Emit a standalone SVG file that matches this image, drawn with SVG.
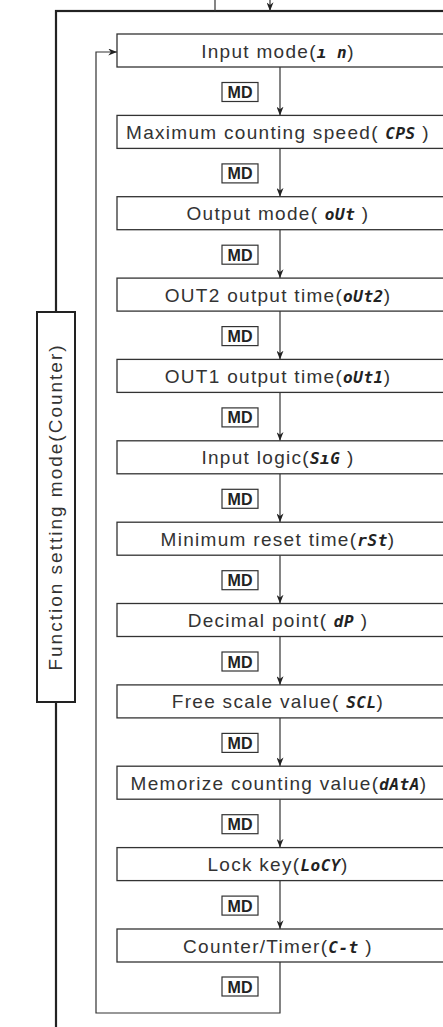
<svg xmlns="http://www.w3.org/2000/svg" width="443" height="1027" viewBox="0 0 443 1027">
<style>
.box{fill:#fff;stroke:#333;stroke-width:1.3}
.lbl{font-family:"Liberation Sans",Arial,sans-serif;font-size:19px;letter-spacing:1.3px;fill:#333;text-anchor:middle}
.side{font-family:"Liberation Sans",Arial,sans-serif;font-size:19px;letter-spacing:2px;fill:#333;text-anchor:middle}
.seg{font-family:"DejaVu Sans Mono",monospace;font-weight:bold;font-style:italic;font-size:16px;letter-spacing:0.5px;fill:#222}
.md{fill:#fff;stroke:#333;stroke-width:1.2}
.mdt{font-family:"Liberation Sans",Arial,sans-serif;font-weight:bold;font-size:16px;fill:#222;text-anchor:middle}
.con{fill:none;stroke:#333;stroke-width:1.2}
.thick{fill:none;stroke:#222;stroke-width:2.2}
</style>
<defs>
<marker id="ah" viewBox="0 0 10 8" refX="10" refY="4" markerWidth="9" markerHeight="7" markerUnits="userSpaceOnUse" orient="auto">
<path d="M0,0 L10,4 L0,8 L3,4 z" fill="#222"/>
</marker>
</defs>
<g id="frame">
<rect class="thick" x="56" y="11" width="420" height="1100"/>
<line class="con" x1="215" y1="0" x2="215" y2="11"/>
<line class="con" x1="270" y1="0" x2="270" y2="11" marker-end="url(#ah)"/>
</g>
<g id="side-label">
<rect x="37" y="312" width="38" height="390" fill="#fff" stroke="#222" stroke-width="2"/>
<text class="side" transform="translate(62,507) rotate(-90)">Function setting mode(Counter)</text>
</g>
<g id="connectors">
<line class="con" x1="280" y1="67" x2="280" y2="115.4" marker-end="url(#ah)"/>
<line class="con" x1="280" y1="148.4" x2="280" y2="196.7" marker-end="url(#ah)"/>
<line class="con" x1="280" y1="229.7" x2="280" y2="278.1" marker-end="url(#ah)"/>
<line class="con" x1="280" y1="311.1" x2="280" y2="359.4" marker-end="url(#ah)"/>
<line class="con" x1="280" y1="392.4" x2="280" y2="440.8" marker-end="url(#ah)"/>
<line class="con" x1="280" y1="473.8" x2="280" y2="522.2" marker-end="url(#ah)"/>
<line class="con" x1="280" y1="555.2" x2="280" y2="603.5" marker-end="url(#ah)"/>
<line class="con" x1="280" y1="636.5" x2="280" y2="684.9" marker-end="url(#ah)"/>
<line class="con" x1="280" y1="717.9" x2="280" y2="766.2" marker-end="url(#ah)"/>
<line class="con" x1="280" y1="799.2" x2="280" y2="847.6" marker-end="url(#ah)"/>
<line class="con" x1="280" y1="880.6" x2="280" y2="929" marker-end="url(#ah)"/>
<polyline class="con" points="280,962 280,1013 96,1013 96,52 117,52" marker-end="url(#ah)"/>
<g id="md-labels">
<rect class="md" x="222" y="82.5" width="36" height="19"/><text class="mdt" x="240" y="98">MD</text>
<rect class="md" x="222" y="163.9" width="36" height="19"/><text class="mdt" x="240" y="179.4">MD</text>
<rect class="md" x="222" y="245.2" width="36" height="19"/><text class="mdt" x="240" y="260.7">MD</text>
<rect class="md" x="222" y="326.6" width="36" height="19"/><text class="mdt" x="240" y="342.1">MD</text>
<rect class="md" x="222" y="407.9" width="36" height="19"/><text class="mdt" x="240" y="423.4">MD</text>
<rect class="md" x="222" y="489.3" width="36" height="19"/><text class="mdt" x="240" y="504.8">MD</text>
<rect class="md" x="222" y="570.7" width="36" height="19"/><text class="mdt" x="240" y="586.2">MD</text>
<rect class="md" x="222" y="652" width="36" height="19"/><text class="mdt" x="240" y="667.5">MD</text>
<rect class="md" x="222" y="733.4" width="36" height="19"/><text class="mdt" x="240" y="748.9">MD</text>
<rect class="md" x="222" y="814.7" width="36" height="19"/><text class="mdt" x="240" y="830.2">MD</text>
<rect class="md" x="222" y="896.1" width="36" height="19"/><text class="mdt" x="240" y="911.6">MD</text>
<rect class="md" x="222" y="977" width="36" height="19"/><text class="mdt" x="240" y="992.5">MD</text>
</g>
</g>
<g id="n1"><rect class="box" x="117" y="34" width="340" height="33"/><text class="lbl" x="278" y="57.5">Input mode(<tspan class="seg">ı n</tspan>)</text></g>
<g id="n2"><rect class="box" x="117" y="115.4" width="340" height="33"/><text class="lbl" x="278" y="138.9">Maximum counting speed( <tspan class="seg">CPS</tspan> )</text></g>
<g id="n3"><rect class="box" x="117" y="196.7" width="340" height="33"/><text class="lbl" x="278" y="220.2">Output mode( <tspan class="seg">oUt</tspan> )</text></g>
<g id="n4"><rect class="box" x="117" y="278.1" width="340" height="33"/><text class="lbl" x="278" y="301.6">OUT2 output time(<tspan class="seg">oUt2</tspan>)</text></g>
<g id="n5"><rect class="box" x="117" y="359.4" width="340" height="33"/><text class="lbl" x="278" y="382.9">OUT1 output time(<tspan class="seg">oUt1</tspan>)</text></g>
<g id="n6"><rect class="box" x="117" y="440.8" width="340" height="33"/><text class="lbl" x="278" y="464.3">Input logic(<tspan class="seg">SıG</tspan> )</text></g>
<g id="n7"><rect class="box" x="117" y="522.2" width="340" height="33"/><text class="lbl" x="278" y="545.7">Minimum reset time(<tspan class="seg">rSt</tspan>)</text></g>
<g id="n8"><rect class="box" x="117" y="603.5" width="340" height="33"/><text class="lbl" x="278" y="627">Decimal point( <tspan class="seg">dP</tspan> )</text></g>
<g id="n9"><rect class="box" x="117" y="684.9" width="340" height="33"/><text class="lbl" x="278" y="708.4">Free scale value( <tspan class="seg">SCL</tspan>)</text></g>
<g id="n10"><rect class="box" x="117" y="766.2" width="340" height="33"/><text class="lbl" x="279" y="789.7">Memorize counting value(<tspan class="seg">dAtA</tspan>)</text></g>
<g id="n11"><rect class="box" x="117" y="847.6" width="340" height="33"/><text class="lbl" x="278" y="871.1">Lock key(<tspan class="seg">LoCY</tspan>)</text></g>
<g id="n12"><rect class="box" x="117" y="929" width="340" height="33"/><text class="lbl" x="278" y="952.5">Counter/Timer(<tspan class="seg">C-t</tspan> )</text></g>
</svg>
